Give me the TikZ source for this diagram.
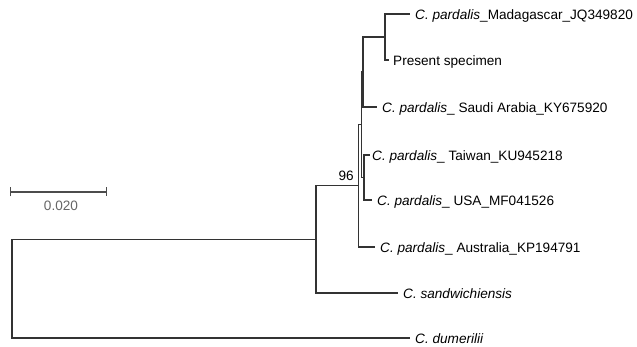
\documentclass[tikz,border=0pt]{standalone}
\usepackage{fontspec}
\setmainfont{Liberation Sans}
\usetikzlibrary{positioning,arrows.meta}

\begin{document}
\begin{tikzpicture}[
    x = 1pt,
    y = -1pt,
    branch/.style = {line width=1.3pt, color=black!80},
    taxon/.style = {inner sep=0pt, text height=10.4pt, text depth=0pt,
      font=\fontsize{13.6pt}{16pt}\selectfont},
    ]
    \useasboundingbox (0,0) rectangle (637,347);
    % inner nodes
    \coordinate (root) at (12, 288.6);
    \coordinate (nH) at (316, 239.3);
    \coordinate (n96) at (358.5, 185.6);
    \coordinate (nE) at (361.5, 124.6);
    \coordinate (nF) at (363, 72);
    \coordinate (nD) at (364, 177.5);
    \coordinate (nG) at (385, 37);
    % tips
    \coordinate (mad) at (410, 14);
    \coordinate (pres) at (389, 60);
    \coordinate (saudi) at (377, 107);
    \coordinate (taiw) at (370, 155);
    \coordinate (usa) at (372, 200);
    \coordinate (aus) at (375, 247);
    \coordinate (sand) at (398, 293);
    \coordinate (dum) at (410, 338);
    % branches
    \begin{scope}[branch]
      \draw (root) |- (nH);
      \draw (root) |- (dum);
      \draw (nH) |- (n96);
      \draw (nH) |- (sand);
      \draw (n96) |- (nE);
      \draw (n96) |- (aus);
      \draw (nE) |- (nF);
      \draw (nE) |- (nD);
      \draw (nF) |- (nG);
      \draw (nF) |- (saudi);
      \draw (nG) |- (mad);
      \draw (nG) |- (pres);
      \draw (nD) |- (taiw);
      \draw (nD) |- (usa);
    \end{scope}
    % taxon labels
    \node[taxon, right=5pt of mad] (madlab)
    {\textit{C. pardalis}\_Madagascar\_JQ349820};
    \node[taxon, right=4pt of pres] (preslab) {Present specimen};
    \node[taxon, right=5pt of saudi] (saudilab)
    {\textit{C. pardalis}\_ Saudi Arabia\_KY675920};
    \node[taxon, right=2pt of taiw] (taiwlab)
    {\textit{C. pardalis}\_ Taiwan\_KU945218};
    \node[taxon, right=5pt of usa] (usalab)
    {\textit{C. pardalis}\_ USA\_MF041526};
    \node[taxon, right=5pt of aus] (auslab)
    {\textit{C. pardalis}\_ Australia\_KP194791};
    \node[taxon, right=5pt of sand] (sandlab) {\textit{C. sandwichiensis}};
    \node[taxon, right=5pt of dum] (dumlab) {\textit{C. dumerilii}};
    % bootstrap
    \node[taxon, above left=4.5pt and 4.5pt of n96] (boot96) {96};
    % scale bar
    \coordinate (barL) at (10, 192);
    \coordinate (barR) at (107, 192);
    \coordinate (barM) at (61, 192);
    \draw[branch, color=black!70, {Bar[width=9pt]}-{Bar[width=9pt]}]
    (barL) -- (barR);
    \node[taxon, color=black!60, below=8pt of barM] (barlab) {0.020};
  \end{tikzpicture}
\end{document}
